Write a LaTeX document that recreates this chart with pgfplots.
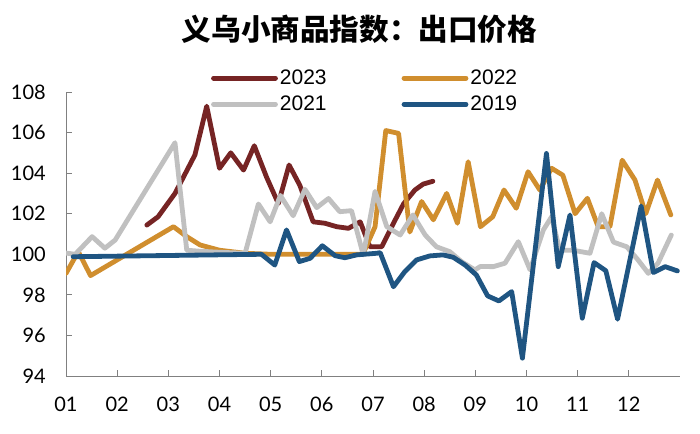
\documentclass[border=0pt]{standalone}
\usepackage{fontspec}
\setmainfont{Liberation Sans}
\newfontfamily\cjk{Noto Sans CJK SC}
\newfontfamily\latofont{Lato}
\usepackage{pgfplots}
\pgfplotsset{compat=1.18}
\definecolor{c23}{RGB}{118,36,36}
\definecolor{c22}{RGB}{208,142,46}
\definecolor{c21}{RGB}{192,192,192}
\definecolor{c19}{RGB}{31,85,130}
\definecolor{axgray}{RGB}{128,128,128}
\begin{document}
\begin{tikzpicture}
\useasboundingbox (-66pt,-57pt) rectangle (634pt,376pt);
\begin{axis}[
  at={(0pt,0pt)}, anchor=south west,
  scale only axis, width=614pt, height=284pt,
  xmin=0, xmax=12, ymin=94, ymax=108,
  axis lines*=left,
  axis line style={axgray, line width=0.9pt, -},
  tick style={axgray, line width=0.9pt},
  major tick length=6pt, tick align=inside,
  xtick={0,...,11},
  xticklabels={01,02,03,04,05,06,07,08,09,10,11,12},
  ytick={94,96,...,108},
  /pgf/number format/assume math mode=true,
  ticklabel style={font=\latofont\fontsize{20}{22}\selectfont, inner sep=0pt},
  yticklabel style={xshift=-20pt},
  xticklabel style={yshift=-21pt},
  title={\cjk\bfseries 义乌小商品指数：出口价格},
  title style={font=\fontsize{29.6}{30}\selectfont, at={(rel axis cs:0.478,1.2)}, anchor=center},
  legend columns=2,
  legend style={draw=none, fill=none, inner sep=0pt,
    at={(rel axis cs:0.236,1.085)}, anchor=north west,
    font=\fontsize{21}{24}\selectfont,
    /tikz/every even column/.append style={column sep=73pt},
    row sep=6pt},
  legend image code/.code={\draw[#1] (0pt,0pt) -- (62pt,0pt);},
  every axis plot/.append style={line width=4.8pt, line cap=round, line join=round},
]
\addplot[c23] coordinates {
(1.58,101.44)(1.80,101.85)(2.13,103.0)(2.52,104.9)(2.75,107.3)(3.0,104.24)(3.22,105.0)(3.47,104.15)(3.68,105.35)(3.92,103.8)(4.15,102.5)(4.36,104.4)(4.57,103.4)(4.83,101.6)(5.06,101.53)(5.29,101.36)(5.52,101.28)(5.75,101.6)(5.94,100.37)(6.17,100.37)(6.40,101.53)(6.60,102.5)(6.82,103.17)(6.98,103.46)(7.17,103.6)
};
\addlegendentry{2023}
\addplot[c22] coordinates {
(0,99.06)(0.24,100.13)(0.48,98.95)(2.10,101.36)(2.36,100.87)(2.62,100.46)(3.0,100.2)(3.5,100.05)(4.0,100.0)(5.8,100.0)(6.04,101.36)(6.25,106.1)(6.50,105.96)(6.72,101.1)(6.95,102.6)(7.18,101.7)(7.44,103.0)(7.65,101.53)(7.86,104.56)(8.10,101.36)(8.34,101.85)(8.56,103.17)(8.80,102.27)(9.03,104.07)(9.26,103.17)(9.49,104.24)(9.71,103.9)(9.95,102.0)(10.19,102.76)(10.40,101.36)(10.63,101.36)(10.87,104.64)(11.12,103.66)(11.33,102.0)(11.56,103.66)(11.82,101.94)
};
\addlegendentry{2022}
\addplot[c21] coordinates {
(0,100.06)(0.18,100.0)(0.51,100.87)(0.76,100.3)(0.96,100.7)(2.13,105.5)(2.36,100.2)(2.62,100.15)(3.0,100.1)(3.5,100.05)(3.76,102.48)(3.99,101.6)(4.19,102.9)(4.44,101.9)(4.67,103.2)(4.90,102.3)(5.13,102.75)(5.35,102.1)(5.58,102.15)(5.81,99.97)(6.04,103.1)(6.27,101.36)(6.53,100.95)(6.78,101.94)(7.02,100.95)(7.24,100.37)(7.50,100.13)(7.73,99.64)(7.99,99.23)(8.10,99.4)(8.35,99.39)(8.58,99.56)(8.84,100.62)(9.07,99.23)(9.33,101.2)(9.49,101.85)(9.65,100.2)(9.91,100.2)(10.24,100.05)(10.47,102.0)(10.70,100.6)(10.96,100.37)(11.18,99.72)(11.38,99.06)(11.57,99.56)(11.83,100.95)
};
\addlegendentry{2021}
\addplot[c19] coordinates {
(0.14,99.88)(3.82,100.0)(4.08,99.47)(4.31,101.2)(4.56,99.64)(4.77,99.8)(5.01,100.42)(5.26,99.93)(5.45,99.83)(5.68,99.97)(6.07,100.05)(6.14,100.08)(6.40,98.4)(6.62,99.14)(6.85,99.72)(7.11,99.92)(7.37,99.97)(7.57,99.85)(7.80,99.47)(8.02,98.98)(8.24,97.95)(8.46,97.7)(8.71,98.16)(8.92,94.88)(9.39,104.97)(9.62,99.39)(9.85,101.94)(10.09,96.85)(10.32,99.59)(10.55,99.19)(10.78,96.8)(11.24,102.38)(11.48,99.1)(11.71,99.39)(11.95,99.18)
};
\addlegendentry{2019}
\end{axis}
\end{tikzpicture}
\end{document}
